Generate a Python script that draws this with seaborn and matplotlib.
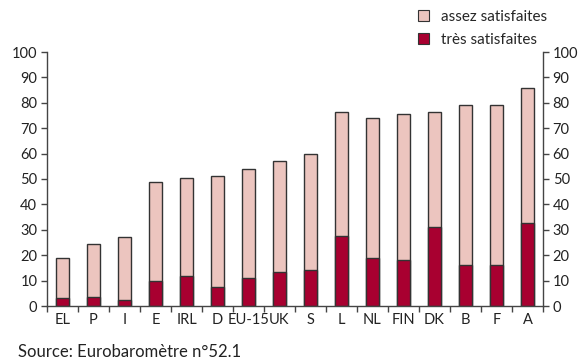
import matplotlib
matplotlib.use("Agg")
import matplotlib.pyplot as plt
from matplotlib.ticker import FixedLocator, MultipleLocator
from matplotlib.patches import Patch
import seaborn as sns
import pandas as pd

countries = ["EL", "P", "I", "E", "IRL", "D", "EU-15", "UK", "S", "L",
             "NL", "FIN", "DK", "B", "F", "A"]
tres = [3, 3.5, 2.5, 10, 12, 7.5, 11, 13.5, 14, 27.5, 19, 18, 31, 16, 16, 32.5]
assez = [16, 21, 24.5, 39, 38.5, 43.5, 43, 43.5, 46, 49, 55, 57.5, 45.5, 63, 63, 53.5]

light = "#ecc5bf"
dark = "#a80030"
edge = "#333333"

df = pd.DataFrame({"pays": countries, "tres": tres, "assez": assez})
df["total"] = df["tres"] + df["assez"]

sns.set_theme(style="white")
plt.rcParams["font.family"] = ["Lato", "DejaVu Sans"]

fig = plt.figure(figsize=(5.82, 3.6), dpi=100)
ax = fig.add_axes([47 / 582, 54 / 360, 496 / 582, 254 / 360])

# full bar height first, then the "très" share drawn over its base
sns.barplot(data=df, x="pays", y="total", color=light, saturation=1,
            width=0.45, edgecolor=edge, linewidth=1.0, ax=ax)
sns.barplot(data=df, x="pays", y="tres", color=dark, saturation=1,
            width=0.45, edgecolor=edge, linewidth=1.0, ax=ax)

ax.set_xlim(-0.5, len(countries) - 0.5)
ax.set_ylim(0, 100)
ax.set_xlabel("")
ax.set_ylabel("")

for s in ["left", "right", "bottom"]:
    ax.spines[s].set_visible(True)
    ax.spines[s].set_color("#444444")
    ax.spines[s].set_linewidth(1.0)
ax.spines["top"].set_visible(False)

ax.yaxis.set_major_locator(MultipleLocator(10))
ax.tick_params(axis="y", which="major", direction="out", length=4, width=1,
               color="#444444", labelsize=10.5, left=True, right=True,
               labelleft=True, labelright=True, pad=3, labelcolor="#222222")
ax.xaxis.set_minor_locator(FixedLocator([i - 0.5 for i in range(len(countries) + 1)]))
ax.tick_params(axis="x", which="major", length=0, labelsize=10.5, pad=5,
               labelcolor="#222222")
ax.tick_params(axis="x", which="minor", direction="out", length=4, width=1,
               color="#444444", bottom=True)

handles = [Patch(facecolor=light, edgecolor=edge, linewidth=0.8),
           Patch(facecolor=dark, edgecolor=edge, linewidth=0.8)]
fig.legend(handles, ["assez satisfaites", "très satisfaites"],
           loc="upper left", bbox_to_anchor=(408 / 582, 1.0), frameon=False,
           fontsize=11, handlelength=0.7, handleheight=0.7,
           handletextpad=0.8, labelspacing=0.6, borderaxespad=0.25)

fig.text(18 / 582, 1 - 352 / 360, "Source: Eurobaromètre n°52.1",
         fontsize=12, color="#222222", va="center", ha="left")

fig.savefig("out.png", dpi=100)
